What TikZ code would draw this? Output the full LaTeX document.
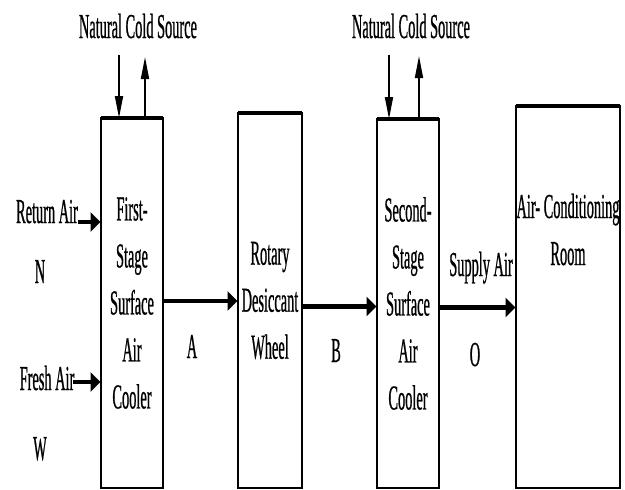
\documentclass[tikz,border=0pt]{standalone}
\usepackage{fontspec}
\usetikzlibrary{arrows.meta,calc}
\newfontfamily\condserif[FakeStretch=0.41,FakeBold=0.6]{Liberation Serif}

\tikzset{
  x=1pt, y=-1pt,
  every node/.style={font=\condserif\fontsize{35}{47}\selectfont, inner sep=0pt, outer sep=0pt},
  unit/.style={draw, line width=1.8pt, anchor=north west, align=center, minimum width=#1},
  toplid/.style={line width=3.2pt},
  flow/.style={line width=4.2pt, -{Triangle[length=10pt,width=19pt]}, shorten >=0.5pt},
  coldflow/.style={line width=1.8pt, -{Triangle[length=22pt,width=8pt]}},
  lbl/.style={anchor=base},
}

\begin{document}
\begin{tikzpicture}
\useasboundingbox (0,0) rectangle (625,490);

% process units
\node[unit=62pt, minimum height=370pt] (cool1) at (101,118)
  {First-\\Stage\\Surface\\Air\\Cooler};
\node[unit=64pt, minimum height=375pt] (wheel) at (238,113)
  {Rotary\\Desiccant\\Wheel};
\node[unit=62pt, minimum height=369pt] (cool2) at (377,119)
  {Second-\\Stage\\Surface\\Air\\Cooler};
\node[unit=104pt, minimum height=382pt] (room) at (516,106) {};
\node[align=center, anchor=base] (roomtxt) at (568,265)
  {Air- Conditioning\\Room};

% heavier top edges of the units
\draw[toplid] (cool1.north west) -- (cool1.north east);
\draw[toplid] (wheel.north west) -- (wheel.north east);
\draw[toplid] (cool2.north west) -- (cool2.north east);
\draw[toplid] (room.north west) -- (room.north east);

% natural cold source, first stage
\node[lbl] (ncs1) at (138,38) {Natural Cold Source};
\coordinate (c1in) at (119,55);
\coordinate (c1out) at (145,57);
\draw[coldflow] (c1in) -- (c1in |- cool1.north);
\draw[coldflow] (c1out |- cool1.north) -- (c1out);

% natural cold source, second stage
\node[lbl] (ncs2) at (411,38) {Natural Cold Source};
\coordinate (c2in) at (389,55);
\coordinate (c2out) at (419,56);
\draw[coldflow] (c2in) -- (c2in |- cool2.north);
\draw[coldflow] (c2out |- cool2.north) -- (c2out);

% inlet air streams
\node[lbl] (ret) at (47,223) {Return Air};
\node[lbl] (fresh) at (47,390) {Fresh Air};
\node[lbl] (ptN) at (40,283) {N};
\node[lbl] (ptW) at (40,460) {W};
\draw[flow] ([yshift=1pt]ret.base east) -- ([yshift=1pt]ret.base east -| cool1.west);
\draw[flow] ([xshift=-1pt,yshift=8pt]fresh.base east) -- ([yshift=8pt]fresh.base east -| cool1.west);

% main air path
\draw[flow] ([yshift=2pt]cool1.east) -- ([yshift=2pt]cool1.east -| wheel.west);
\draw[flow] ([yshift=-6pt]wheel.east) -- ([yshift=-6pt]wheel.east -| cool2.west);
\draw[flow] ([yshift=-4pt]cool2.east) -- ([yshift=-4pt]cool2.east -| room.west);

% state points
\node[lbl] (ptA) at (192,358) {A};
\node[lbl] (ptB) at (336,362) {B};
\node[lbl] (ptO) at (475,366) {O};
\node[lbl] (sup) at (481,276) {Supply Air};
\end{tikzpicture}
\end{document}
